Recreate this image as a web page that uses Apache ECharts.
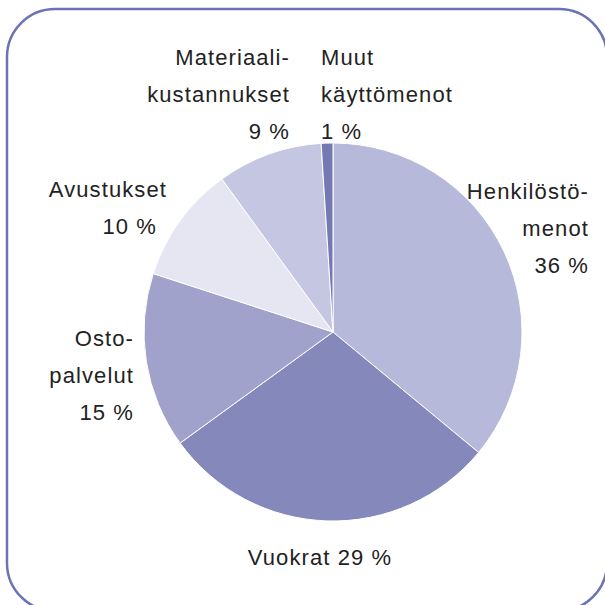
<!DOCTYPE html>
<html>
<head>
<meta charset="utf-8">
<script src="https://cdn.jsdelivr.net/npm/echarts@6/dist/echarts.min.js"></script>
<style>
  html, body { margin: 0; padding: 0; background: #ffffff; }
  #chart { width: 605px; height: 605px; }
  #chart text { letter-spacing: 1.1px; }
</style>
</head>
<body>
<div id="chart"></div>
<script>
const categories = ['Henkilöstömenot', 'Vuokrat', 'Ostopalvelut', 'Avustukset', 'Materiaalikustannukset', 'Muut käyttömenot'];
const values = [36, 29, 15, 10, 9, 1];
const labelLines = [['Henkilöstö-', 'menot'], ['Vuokrat'], ['Osto-', 'palvelut'], ['Avustukset'], ['Materiaali-', 'kustannukset'], ['Muut', 'käyttömenot']];
const pctInline = [false, true, false, false, false, false];

const colors = ['#b7b9db', '#8488bb', '#a0a2cc', '#e6e6f2', '#c5c6e1', '#7479b2'];
// label anchor layout: [x, y, align]
const labelLayoutSpec = [
  [589, 228, 'right'],
  [320, 557, 'center'],
  [134, 375, 'right'],
  [167, 208, 'right'],
  [290, 94, 'right'],
  [321, 94, 'left']
];

const chart = echarts.init(document.getElementById('chart'), null, { renderer: 'svg' });

const data = categories.map((c, i) => ({
  name: c,
  value: values[i],
  itemStyle: { color: colors[i] }
}));

chart.setOption({
  animation: false,
  graphic: [{
    type: 'rect',
    shape: { x: 7, y: 9, width: 600, height: 602, r: 48 },
    style: { fill: 'none', stroke: '#6b72b5', lineWidth: 2.5 },
    z: 0
  }],
  series: [{
    type: 'pie',
    center: [333, 332],
    radius: [0, 189],
    startAngle: 90,
    clockwise: true,
    avoidLabelOverlap: false,
    itemStyle: { borderColor: '#ffffff', borderWidth: 1 },
    labelLine: { show: false },
    label: {
      show: true,
      position: 'outside',
      color: '#222222',
      fontFamily: '"Liberation Sans", Arial, sans-serif',
      fontSize: 22,
      lineHeight: 37,
      formatter: function (p) {
        const i = p.dataIndex;
        const pct = values[i] + ' %';
        if (pctInline[i]) return labelLines[i].join(' ') + ' ' + pct;
        if (i === 3) return '{a|' + labelLines[i].join('\n') + '}\n{b|' + pct + '}';
        return labelLines[i].concat([pct]).join('\n');
      },
      rich: {
        a: { fontSize: 22, lineHeight: 37, color: '#222222', fontFamily: '"Liberation Sans", Arial, sans-serif' },
        b: { fontSize: 22, lineHeight: 37, color: '#222222', fontFamily: '"Liberation Sans", Arial, sans-serif', padding: [0, 10, 0, 0] }
      }
    },
    labelLayout: function (params) {
      const s = labelLayoutSpec[params.dataIndex];
      return { x: s[0], y: s[1], align: s[2], verticalAlign: 'middle', hideOverlap: false };
    },
    data: data
  }]
});
</script>
</body>
</html>
